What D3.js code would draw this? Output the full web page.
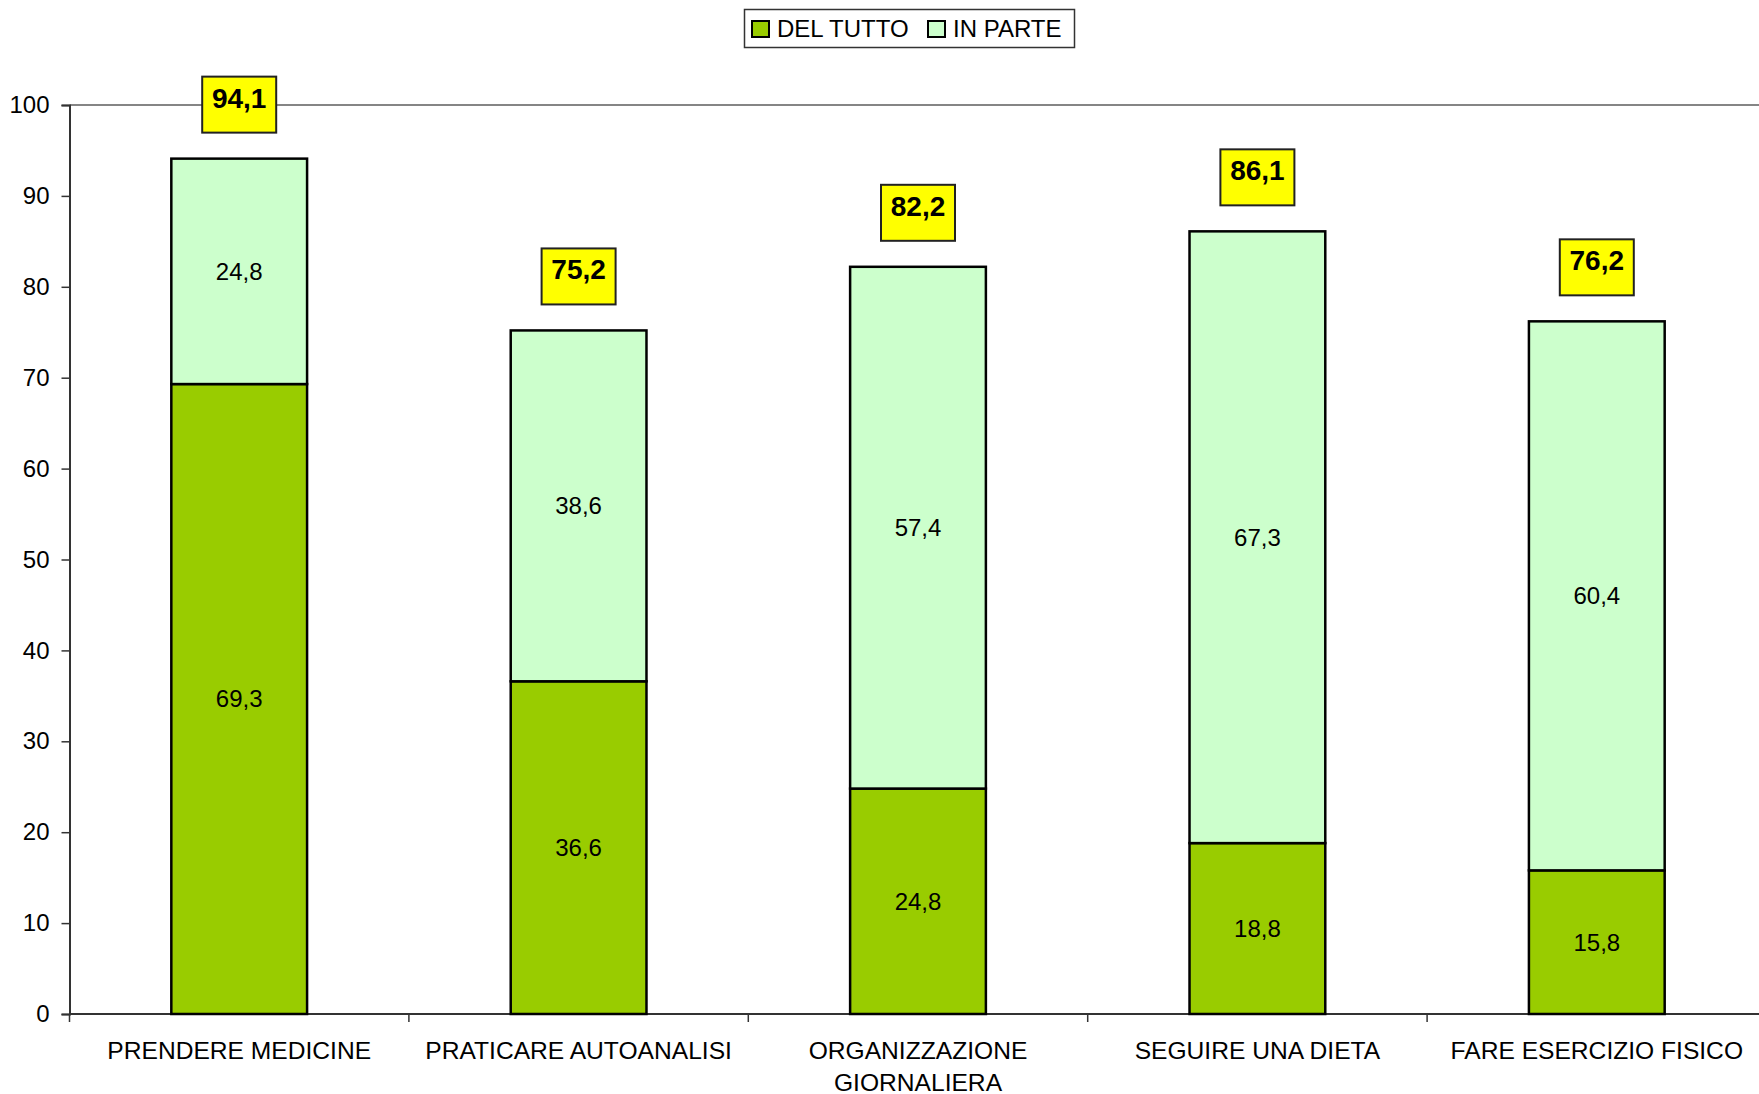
<!DOCTYPE html>
<html>
<head>
<meta charset="utf-8">
<script src="https://cdn.jsdelivr.net/npm/d3@7"></script>
<style>
  html, body { margin: 0; padding: 0; background: #fff; }
  svg { display: block; font-family: "Liberation Sans", Arial, sans-serif; }
</style>
</head>
<body>
<div id="chart"></div>
<script>
// Categories (multi-line labels are split on "\n")
const categories = [
  "PRENDERE MEDICINE",
  "PRATICARE AUTOANALISI",
  "ORGANIZZAZIONE\nGIORNALIERA",
  "SEGUIRE UNA DIETA",
  "FARE ESERCIZIO FISICO"
];
const delTutto = [69.3, 36.6, 24.8, 18.8, 15.8];
const inParte  = [24.8, 38.6, 57.4, 67.3, 60.4];
const totals   = [94.1, 75.2, 82.2, 86.1, 76.2];
const seriesNames = ["DEL TUTTO", "IN PARTE"];
const yTicks = [0, 10, 20, 30, 40, 50, 60, 70, 80, 90, 100];

const W = 1759, H = 1094;
const colors = ["#99CC00", "#CCFFCC"];
const fmt = v => v.toFixed(1).replace(".", ",");

const svg = d3.select("#chart").append("svg")
  .attr("width", W).attr("height", H);

const x0 = 69.5;
const x = d3.scaleBand()
  .domain(categories)
  .range([x0, 1766.5])
  .paddingInner(0.6)
  .paddingOuter(0.3);
// band edges used for the category tick marks
const step = x.step();

const y = d3.scaleLinear().domain([0, 100]).range([1014, 105]);

// Gridline at the top of the scale
svg.append("line")
  .attr("x1", x0).attr("x2", W)
  .attr("y1", y(100)).attr("y2", y(100))
  .attr("stroke", "#858585").attr("stroke-width", 2);

// Y axis
const yAxis = d3.axisLeft(y).tickValues(yTicks).tickSize(8).tickPadding(12);
const gy = svg.append("g").attr("transform", `translate(${x0},0)`).call(yAxis);
gy.select(".domain").attr("stroke", "#333").attr("stroke-width", 2);
gy.selectAll(".tick line").attr("stroke", "#333").attr("stroke-width", 1.5);
gy.selectAll(".tick text")
  .attr("font-size", 24).attr("fill", "#000")
  .attr("font-family", "Liberation Sans, Arial, sans-serif");

// Stacked data
const stackData = categories.map((c, i) => ({ cat: c, a: delTutto[i], b: inParte[i], t: totals[i] }));

// X axis line and band-edge ticks
svg.append("line")
  .attr("x1", x0).attr("x2", W)
  .attr("y1", y(0)).attr("y2", y(0))
  .attr("stroke", "#333").attr("stroke-width", 2);
svg.selectAll(".xtick").data(d3.range(categories.length + 1)).enter().append("line")
  .attr("class", "xtick")
  .attr("x1", i => x0 + i * step).attr("x2", i => x0 + i * step)
  .attr("y1", y(0)).attr("y2", y(0) + 8)
  .attr("stroke", "#333").attr("stroke-width", 1.5);

// Category labels
const xl = svg.selectAll(".xlab").data(categories).enter().append("text")
  .attr("class", "xlab")
  .attr("x", d => x(d) + x.bandwidth() / 2)
  .attr("y", 1059)
  .attr("text-anchor", "middle")
  .attr("font-size", 24.6)
  .attr("fill", "#000");
xl.each(function(d) {
  const lines = d.split("\n");
  d3.select(this).selectAll("tspan").data(lines).enter().append("tspan")
    .attr("x", x(d) + x.bandwidth() / 2)
    .attr("dy", (l, j) => j === 0 ? 0 : 31.5)
    .text(l => l);
});

// Bars: lower segment (DEL TUTTO)
svg.selectAll(".barA").data(stackData).enter().append("rect")
  .attr("x", d => x(d.cat)).attr("width", x.bandwidth())
  .attr("y", d => y(d.a)).attr("height", d => y(0) - y(d.a))
  .attr("fill", colors[0]).attr("stroke", "#000").attr("stroke-width", 2.5);

// Bars: upper segment (IN PARTE)
svg.selectAll(".barB").data(stackData).enter().append("rect")
  .attr("x", d => x(d.cat)).attr("width", x.bandwidth())
  .attr("y", d => y(d.a + d.b)).attr("height", d => y(d.a) - y(d.a + d.b))
  .attr("fill", colors[1]).attr("stroke", "#000").attr("stroke-width", 2.5);

// Segment value labels
svg.selectAll(".labA").data(stackData).enter().append("text")
  .attr("x", d => x(d.cat) + x.bandwidth() / 2)
  .attr("y", d => y(d.a / 2))
  .attr("dy", "0.35em")
  .attr("text-anchor", "middle").attr("font-size", 24).attr("fill", "#000")
  .text(d => fmt(d.a));
svg.selectAll(".labB").data(stackData).enter().append("text")
  .attr("x", d => x(d.cat) + x.bandwidth() / 2)
  .attr("y", d => y(d.a + d.b / 2))
  .attr("dy", "0.35em")
  .attr("text-anchor", "middle").attr("font-size", 24).attr("fill", "#000")
  .text(d => fmt(d.b));

// Total labels in yellow boxes above the bars
const tot = svg.selectAll(".tot").data(stackData).enter().append("g")
  .attr("transform", d => `translate(${x(d.cat) + x.bandwidth() / 2},${y(d.t) - 26})`);
tot.append("rect")
  .attr("x", -37).attr("y", -56).attr("width", 74).attr("height", 56)
  .attr("fill", "#FFFF00").attr("stroke", "#222").attr("stroke-width", 2);
tot.append("text")
  .attr("x", 0).attr("y", -25)
  .attr("text-anchor", "middle").attr("font-size", 28).attr("font-weight", "bold")
  .attr("fill", "#000")
  .text(d => fmt(d.t));

// Legend
const lg = svg.append("g");
lg.append("rect").attr("x", 744.5).attr("y", 9.5).attr("width", 330).attr("height", 38)
  .attr("fill", "#fff").attr("stroke", "#333").attr("stroke-width", 1.5);
const legendX = [752, 928];
seriesNames.forEach((name, i) => {
  lg.append("rect").attr("x", legendX[i]).attr("y", 21).attr("width", 17).attr("height", 16)
    .attr("fill", colors[i]).attr("stroke", "#000").attr("stroke-width", 2);
  lg.append("text").attr("x", legendX[i] + 25).attr("y", 37)
    .attr("font-size", 24).attr("fill", "#000").text(name);
});
</script>
</body>
</html>
